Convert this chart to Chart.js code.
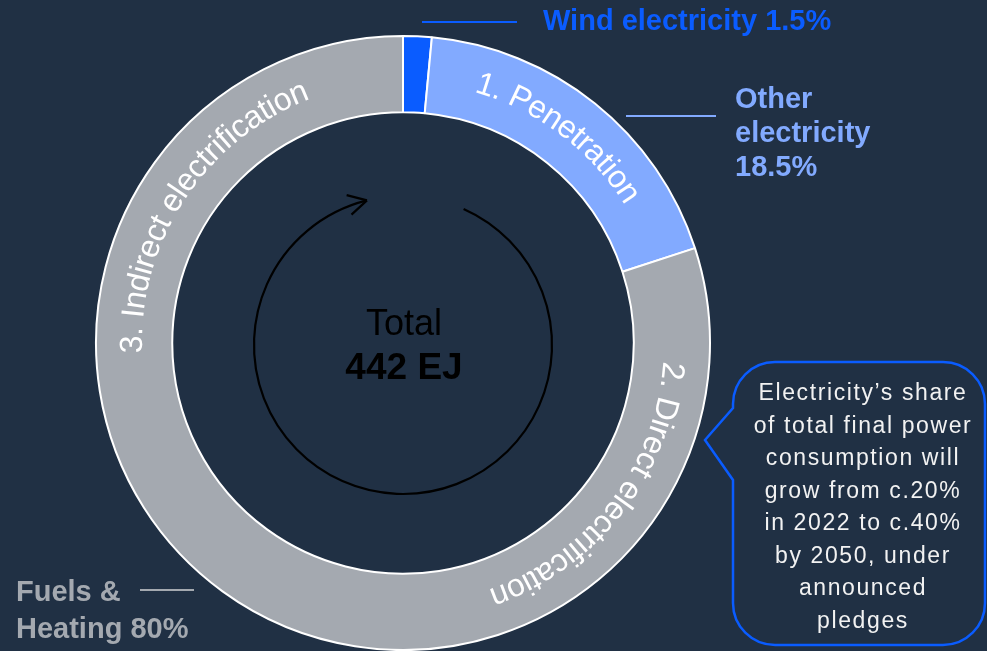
<!DOCTYPE html>
<html>
<head>
<meta charset="utf-8">
<script src="https://cdn.jsdelivr.net/npm/chart.js@4.4.1/dist/chart.umd.min.js"></script>
<style>
    html, body { margin: 0; padding: 0; background: #203044; overflow: hidden; }
    #wrap { position: relative; width: 987px; height: 651px; }
</style>
</head>
<body>
<div id="wrap"><canvas id="energyMixChart"></canvas></div>
<script>
// Доли конечного энергопотребления, %
const categories = ['Wind electricity', 'Other electricity', 'Fuels & Heating'];
const shares = [1.5, 18.5, 80];
const totalEJ = 442;

// Этапы электрификации, подписи вдоль кольца
const stages = ['1. Penetration', '2. Direct electrification', '3. Indirect electrification'];

const calloutLines = [
    'Electricity\u2019s share',
    'of total final power',
    'consumption will',
    'grow from c.20%',
    'in 2022 to c.40%',
    'by 2050, under',
    'announced',
    'pledges'
];

const FONT = '"Liberation Sans", Arial, Helvetica, sans-serif';
const sliceColors = ['#0a5cff', '#82aaff', '#a4a9b0'];

// Текст по дуге: по часовой стрелке, верх букв наружу
function drawArcText(ctx, text, cx, cy, r, centerDeg) {
    const total = ctx.measureText(text).width;
    let a = centerDeg * Math.PI / 180 - total / 2 / r;
    for (const ch of text) {
        const w = ctx.measureText(ch).width;
        const mid = a + w / 2 / r;
        ctx.save();
        ctx.translate(cx + r * Math.sin(mid), cy - r * Math.cos(mid));
        ctx.rotate(mid);
        ctx.fillText(ch, 0, 0);
        ctx.restore();
        a += w / r;
    }
}

const annotations = {
    id: 'annotations',
    afterDatasetsDraw(chart, args, opts) {
        const ctx = chart.ctx;
        const arc = chart.getDatasetMeta(0).data[0];
        const cx = arc.x, cy = arc.y;
        const rMid = (arc.outerRadius + arc.innerRadius) / 2;

        ctx.save();

        // подписи этапов на кольце
        ctx.fillStyle = '#ffffff';
        ctx.font = '32px ' + FONT;
        ctx.textAlign = 'center';
        ctx.textBaseline = 'middle';
        stages.forEach((s, i) => drawArcText(ctx, s, cx, cy, rMid + 1, opts.stageAngles[i]));

        // круговая стрелка в центре
        const rc = opts.loopRadius;
        const ly = cy + 2;
        const a0 = (opts.loopFrom - 90) * Math.PI / 180;
        const a1 = (opts.loopTo - 90) * Math.PI / 180;
        ctx.strokeStyle = '#000000';
        ctx.lineWidth = 2.2;
        ctx.beginPath();
        ctx.arc(cx, ly, rc, a0, a1);
        ctx.stroke();
        const tx = cx + rc * Math.cos(a1), ty = ly + rc * Math.sin(a1);
        const dir = a1 + Math.PI / 2;
        ctx.beginPath();
        [-0.5, 0.5].forEach(d => {
            ctx.moveTo(tx, ty);
            ctx.lineTo(tx - 21 * Math.cos(dir + d), ty - 21 * Math.sin(dir + d));
        });
        ctx.stroke();

        // итог в центре
        ctx.fillStyle = '#000000';
        ctx.font = '36px ' + FONT;
        ctx.fillText('Total', cx + 1, cy - 18);
        ctx.font = 'bold 37px ' + FONT;
        ctx.fillText(totalEJ + ' EJ', cx + 1, cy + 26);

        // выноски с долями
        ctx.textAlign = 'left';
        ctx.lineWidth = 2;
        ctx.font = 'bold 29px ' + FONT;

        ctx.strokeStyle = ctx.fillStyle = sliceColors[0];
        ctx.beginPath(); ctx.moveTo(422, 22); ctx.lineTo(517, 22); ctx.stroke();
        ctx.fillText(categories[0] + ' ' + shares[0] + '%', 543, 22);

        ctx.strokeStyle = ctx.fillStyle = sliceColors[1];
        ctx.beginPath(); ctx.moveTo(626, 116); ctx.lineTo(716, 116); ctx.stroke();
        const other = categories[1].split(' ');
        ctx.fillText(other[0], 735, 100);
        ctx.fillText(other[1], 735, 134);
        ctx.fillText(shares[1] + '%', 735, 168);

        ctx.strokeStyle = ctx.fillStyle = sliceColors[2];
        ctx.beginPath(); ctx.moveTo(140, 590); ctx.lineTo(194, 590); ctx.stroke();
        const fuels = categories[2].split(' ');
        ctx.fillText(fuels[0] + ' ' + fuels[1], 16, 593);
        ctx.fillText(fuels[2] + ' ' + shares[2] + '%', 16, 630);

        // облачко с комментарием
        const x0 = 733, y0 = 362, x1 = 985, y1 = 645, r = 42;
        ctx.strokeStyle = '#0a5cff';
        ctx.lineWidth = 2.5;
        ctx.beginPath();
        ctx.moveTo(x0 + r, y0);
        ctx.lineTo(x1 - r, y0);
        ctx.arcTo(x1, y0, x1, y0 + r, r);
        ctx.lineTo(x1, y1 - r);
        ctx.arcTo(x1, y1, x1 - r, y1, r);
        ctx.lineTo(x0 + r, y1);
        ctx.arcTo(x0, y1, x0, y1 - r, r);
        ctx.lineTo(x0, 480);
        ctx.lineTo(705, 440);
        ctx.lineTo(x0, 408);
        ctx.lineTo(x0, y0 + r);
        ctx.arcTo(x0, y0, x0 + r, y0, r);
        ctx.closePath();
        ctx.stroke();

        ctx.fillStyle = '#f2f2f2';
        ctx.font = '23px ' + FONT;
        ctx.letterSpacing = '1.6px';
        ctx.textAlign = 'center';
        calloutLines.forEach((line, i) => ctx.fillText(line, 863, 394 + i * 32.5));

        ctx.restore();
    }
};

const ctx = document.getElementById('energyMixChart').getContext('2d');
new Chart(ctx, {
    type: 'doughnut',
    data: {
        labels: categories,
        datasets: [{
            data: shares,
            backgroundColor: sliceColors,
            borderColor: '#ffffff',
            borderWidth: 2
        }]
    },
    options: {
        responsive: true,
        maintainAspectRatio: false,
        animation: false,
        radius: 307,
        cutout: 230,
        layout: { padding: { left: 0, right: 181, top: 36, bottom: 1 } },
        plugins: {
            legend: { display: false },
            tooltip: { enabled: false },
            annotations: {
                stageAngles: [37, 127.5, 303.5],
                loopRadius: 149,
                loopFrom: 24,
                loopTo: 346
            }
        }
    },
    plugins: [annotations]
});
</script>
</body>
</html>
